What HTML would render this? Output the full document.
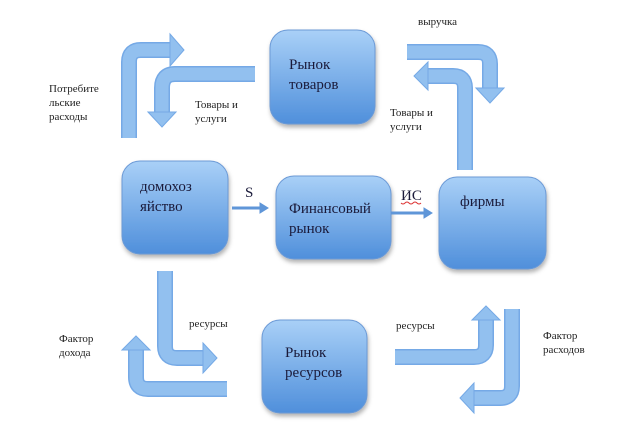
<!DOCTYPE html>
<html><head><meta charset="utf-8"><style>
html,body{margin:0;padding:0;background:#fff;}
svg{display:block;}
text{font-family:"Liberation Serif",serif;fill:#222;}
.b{font-size:15px;fill:#1a1a3a;}
.s{font-size:11px;}
</style></head><body>
<svg width="622" height="432" viewBox="0 0 622 432">
<defs>
<linearGradient id="g" x1="0" y1="0" x2="0" y2="1">
<stop offset="0" stop-color="#a9d0f7"/><stop offset="1" stop-color="#4f8fdb"/>
</linearGradient>
<filter id="sh" x="-20%" y="-20%" width="140%" height="140%"><feDropShadow dx="1" dy="3" stdDeviation="2" flood-color="#000" flood-opacity="0.3"/></filter>
</defs>
<g fill="url(#g)" stroke="#6c9ad6" stroke-width="1" filter="url(#sh)">
<rect x="270" y="30" width="105" height="94" rx="18"/>
<rect x="122" y="161" width="106" height="93" rx="18"/>
<rect x="276" y="176" width="115" height="83" rx="18"/>
<rect x="439" y="177" width="107" height="92" rx="18"/>
<rect x="262" y="320" width="105" height="93" rx="18"/>
</g>
<g fill="none" stroke-linejoin="round">
<g stroke="#75a9e6" stroke-width="16">
<path d="M129,138 V62 Q129,50 141,50 H171"/>
<path d="M255,74 H175 Q162,74 162,88 V113"/>
<path d="M407,52 H478 Q490,52 490,64 V89"/>
<path d="M465,170 V88 Q465,76 453,76 H427"/>
<path d="M165,271 V346 Q165,358 177,358 H204"/>
<path d="M227,389 H148 Q136,389 136,377 V349"/>
<path d="M395,357 H474 Q486,357 486,345 V319"/>
<path d="M512,309 V386 Q512,398 500,398 H473"/>
</g>
<g stroke="#92c0ef" stroke-width="13">
<path d="M129,138 V62 Q129,50 141,50 H171"/>
<path d="M255,74 H175 Q162,74 162,88 V113"/>
<path d="M407,52 H478 Q490,52 490,64 V89"/>
<path d="M465,170 V88 Q465,76 453,76 H427"/>
<path d="M165,271 V346 Q165,358 177,358 H204"/>
<path d="M227,389 H148 Q136,389 136,377 V349"/>
<path d="M395,357 H474 Q486,357 486,345 V319"/>
<path d="M512,309 V386 Q512,398 500,398 H473"/>
</g>
</g>
<g fill="#92c0ef" stroke="#75a9e6" stroke-width="1">
<polygon points="170,34 184,50 170,66"/>
<polygon points="148,112 162,127 176,112"/>
<polygon points="476,88 490,103 504,88"/>
<polygon points="428,62 414,76 428,90"/>
<polygon points="203,343 217,358 203,373"/>
<polygon points="122,350 136,336 150,350"/>
<polygon points="472,320 486,306 500,320"/>
<polygon points="474,383 460,398 474,413"/>
</g>
<g stroke="#5f96d8" stroke-width="3" fill="#5f96d8">
<line x1="232" y1="208" x2="262" y2="208"/><polygon points="260,203 268,208 260,213" stroke-width="1"/>
<line x1="391" y1="213" x2="426" y2="213"/><polygon points="424,208 432,213 424,218" stroke-width="1"/>
</g>
<text class="b" x="289" y="69">Рынок</text>
<text class="b" x="289" y="89">товаров</text>
<text class="b" x="140" y="191">домохоз</text>
<text class="b" x="140" y="211">яйство</text>
<text class="b" x="289" y="213">Финансовый</text>
<text class="b" x="289" y="233">рынок</text>
<text class="b" x="460" y="206">фирмы</text>
<text class="b" x="285" y="357">Рынок</text>
<text class="b" x="285" y="377">ресурсов</text>
<text class="b" x="245" y="197">S</text>
<text class="b" x="401" y="200">ИС</text>
<path d="M401,203 q2,2 4,0 q2,-2 4,0 q2,2 4,0 q2,-2 4,0 q2,2 4,0" stroke="#d33" fill="none" stroke-width="1"/>
<text class="s" x="49" y="92">Потребите</text>
<text class="s" x="49" y="106">льские</text>
<text class="s" x="49" y="120">расходы</text>
<text class="s" x="195" y="108">Товары и</text>
<text class="s" x="195" y="122">услуги</text>
<text class="s" x="418" y="25">выручка</text>
<text class="s" x="390" y="116">Товары и</text>
<text class="s" x="390" y="130">услуги</text>
<text class="s" x="189" y="327">ресурсы</text>
<text class="s" x="59" y="342">Фактор</text>
<text class="s" x="59" y="356">дохода</text>
<text class="s" x="396" y="329">ресурсы</text>
<text class="s" x="543" y="339">Фактор</text>
<text class="s" x="543" y="353">расходов</text>
</svg>
</body></html>
